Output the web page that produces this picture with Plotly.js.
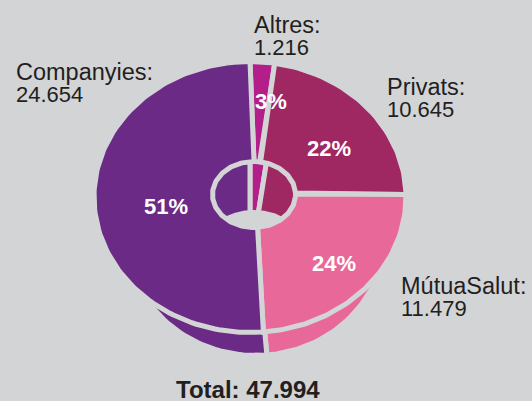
<!DOCTYPE html>
<html>
<head>
<meta charset="utf-8">
<script src="https://cdn.plot.ly/plotly-3.0.1.min.js"></script>
<style>
  html, body { margin: 0; padding: 0; background: #d3d4d6; }
  #chart { width: 532px; height: 401px; }
</style>
</head>
<body>
<div id="chart"></div>
<script>
// ---- data ----
const categories = ['Altres', 'Privats', 'MútuaSalut', 'Companyies'];
const values = [1216, 10645, 11479, 24654];
const totalLabel = 'Total';

// ---- styles ----
const sliceColors = ['#b41e8a', '#9f2762', '#e9689a', '#6b2a85'];
const BG = '#d3d4d6';
const TXT = '#231f20';
const FONT = 'Liberation Sans, Arial, Helvetica, sans-serif';

// geometry (pixel space, y downward)
const TOP = {cx: 250, cy: 197, rx: 156, ry: 135.5};
const HOLE = {cx: 254, cy: 194.5, rx: 41.5, ry: 33};
const SIDE = {cx: 255.8, cy: 235.5, rx: 129, ry: 120};
const WALL = {cx: 250, cy: 265, rx: 110, ry: 110, ryDown: 40};
const FLOOR = {cx: 254, cy: 228, rx: 36, ry: 18};
const GAP = 5;

const total = values.reduce((a, b) => a + b, 0);
function fmt(v) { return String(v).replace(/\B(?=(\d{3})+(?!\d))/g, '.'); }

// cumulative angles (degrees, clockwise from 12 o'clock)
const startA = [], endA = [];
let acc = 0;
values.forEach(v => { startA.push(acc / total * 360); acc += v; endA.push(acc / total * 360); });

function pt(e, a) {
  const r = a * Math.PI / 180;
  const c = Math.cos(r);
  const ry = (c < 0 && e.ryDown !== undefined) ? e.ryDown : e.ry;
  return [e.cx + e.rx * Math.sin(r), e.cy - ry * c];
}
function arc(e, a0, a1) {
  const n = Math.max(4, Math.ceil(Math.abs(a1 - a0) / 1.5));
  const out = [];
  for (let i = 0; i <= n; i++) out.push(pt(e, a0 + (a1 - a0) * i / n));
  return out;
}
function wedge(e, a0, a1) {
  return [[e.cx, e.cy]].concat(arc(e, a0, a1)).concat([[e.cx, e.cy]]);
}
function ring(eo, ei, a0, a1) {
  const o = arc(eo, a0, a1), i = arc(ei, a1, a0);
  const p = o.concat(i); p.push(o[0]); return p;
}
function poly(points, fill, lw) {
  return {
    type: 'scatter', mode: 'lines', fill: 'toself', hoverinfo: 'skip',
    x: points.map(p => p[0]), y: points.map(p => p[1]),
    fillcolor: fill, line: {color: BG, width: lw}
  };
}

const traces = [];
// side of the cylinder (lower face)
values.forEach((v, i) => traces.push(poly(wedge(SIDE, startA[i], endA[i]), sliceColors[i], GAP)));
// inner walls seen through the hole
values.forEach((v, i) => traces.push(poly(wedge(WALL, startA[i], endA[i]), sliceColors[i], GAP)));
// floor of the hole
traces.push(poly(arc(FLOOR, 0, 360), BG, 0));
// top face (annulus)
values.forEach((v, i) => traces.push(poly(ring(TOP, HOLE, startA[i], endA[i]), sliceColors[i], GAP)));

// ---- labels ----
const annotations = [];
// percentage labels inside slices
const pctR = 0.6;
const pctNudge = [[14, -14], [8, 5], [14, 12], [10, 6]];
values.forEach((v, i) => {
  const mid = (startA[i] + endA[i]) / 2;
  const e = {cx: TOP.cx, cy: TOP.cy, rx: TOP.rx * pctR, ry: TOP.ry * pctR};
  const p = pt(e, mid);
  annotations.push({
    x: p[0] + pctNudge[i][0], y: p[1] + pctNudge[i][1], xref: 'x', yref: 'y',
    text: '<b>' + Math.round(v / total * 100) + '%</b>', showarrow: false,
    xanchor: 'center', yanchor: 'middle',
    font: {family: FONT, size: 22, color: '#ffffff'}
  });
});
// outer category labels: [left x, middle y of first line]
const outerPos = [[252, 25], [385, 87], [399, 286], [14, 72]];
values.forEach((v, i) => {
  annotations.push({
    x: outerPos[i][0], y: outerPos[i][1], xref: 'x', yref: 'y',
    text: categories[i] + ':', showarrow: false, xanchor: 'left', yanchor: 'middle',
    font: {family: FONT, size: 23.5, color: TXT}
  });
  annotations.push({
    x: outerPos[i][0], y: outerPos[i][1] + 22, xref: 'x', yref: 'y',
    text: fmt(v), showarrow: false, xanchor: 'left', yanchor: 'middle',
    font: {family: FONT, size: 22, color: TXT}
  });
});
// total
annotations.push({
  x: 248, y: 389.5, xref: 'x', yref: 'y',
  text: '<b>' + totalLabel + ': ' + fmt(total) + '</b>', showarrow: false,
  xanchor: 'center', yanchor: 'middle',
  font: {family: FONT, size: 24, color: TXT}
});

const layout = {
  width: 532, height: 401,
  margin: {l: 0, r: 0, t: 0, b: 0, pad: 0},
  paper_bgcolor: BG, plot_bgcolor: BG,
  showlegend: false,
  xaxis: {range: [0, 532], visible: false, fixedrange: true},
  yaxis: {range: [401, 0], visible: false, fixedrange: true},
  annotations: annotations
};

Plotly.newPlot('chart', traces, layout, {displayModeBar: false, staticPlot: true});
</script>
</body>
</html>
